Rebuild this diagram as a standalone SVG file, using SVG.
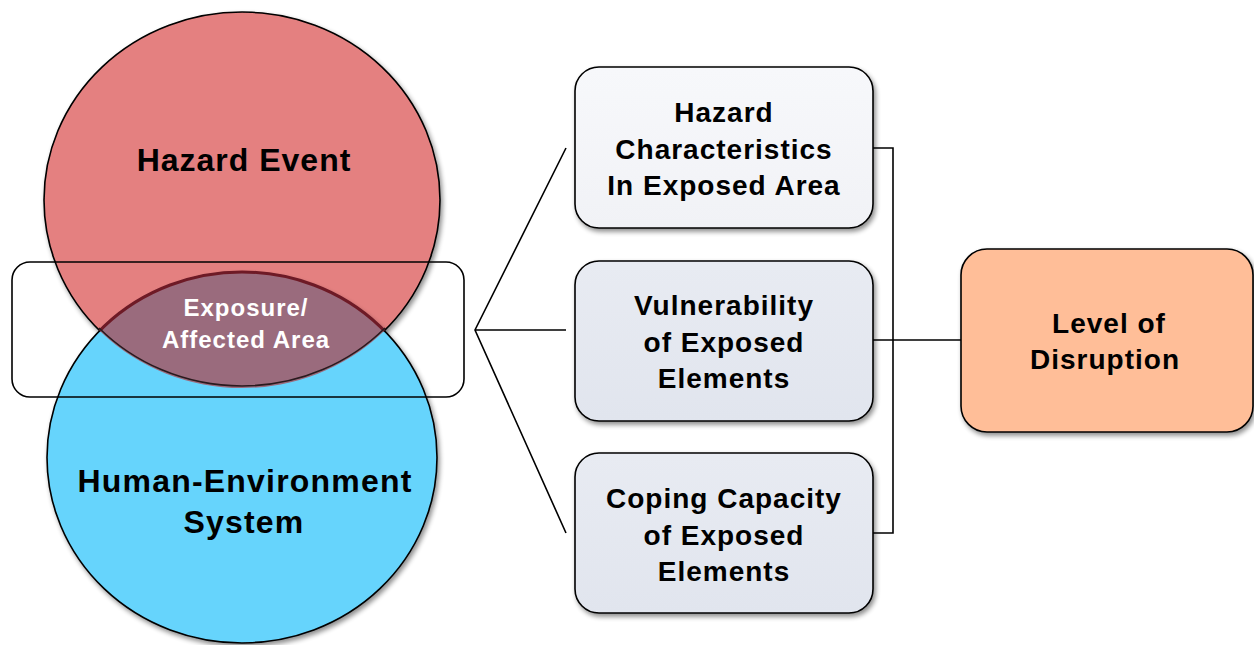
<svg xmlns="http://www.w3.org/2000/svg" width="1254" height="645" viewBox="0 0 1254 645">
<style>
  .t{font-family:"Liberation Sans",Arial,sans-serif;font-weight:bold;text-anchor:middle;fill:#000}
  .box{stroke:#000;stroke-width:1.6}
  .ln{stroke:#000;stroke-width:1.6;fill:none}
</style>
<defs>
  <filter id="sh" x="-10%" y="-10%" width="125%" height="125%">
    <feGaussianBlur in="SourceAlpha" stdDeviation="2.5"/>
    <feOffset dx="2" dy="3"/>
    <feComponentTransfer><feFuncA type="linear" slope="0.45"/></feComponentTransfer>
    <feMerge><feMergeNode/><feMergeNode in="SourceGraphic"/></feMerge>
  </filter>
  <linearGradient id="g1" x1="0" y1="0" x2="0" y2="1">
    <stop offset="0" stop-color="#F7F8FB"/><stop offset="1" stop-color="#F1F2F6"/>
  </linearGradient>
  <linearGradient id="g2" x1="0" y1="0" x2="0" y2="1">
    <stop offset="0" stop-color="#E8EBF2"/><stop offset="1" stop-color="#E1E5EE"/>
  </linearGradient>
  <clipPath id="redclip"><ellipse cx="242" cy="200" rx="198" ry="188"/></clipPath>
</defs>

<g id="hazard-event">
  <ellipse cx="242" cy="200" rx="198" ry="188" fill="#E48080" stroke="#000" stroke-width="1.6" filter="url(#sh)"/>
  <text class="t" x="244" y="171" font-size="32" letter-spacing="1">Hazard Event</text>
</g>

<g id="human-environment">
  <ellipse cx="242" cy="457.5" rx="195" ry="185.5" fill="#66D4FC" stroke="#000" stroke-width="1.6" filter="url(#sh)"/>
  <text class="t" x="245" y="492" font-size="32" letter-spacing="1.2">Human-Environment</text>
  <text class="t" x="244" y="533" font-size="32" letter-spacing="1.2">System</text>
</g>

<g id="exposure">
  <g clip-path="url(#redclip)">
    <ellipse cx="242" cy="457.5" rx="195" ry="185.5" fill="#9A6B7D" stroke="#6E1A26" stroke-width="3"/>
  </g>
  <path d="M99,328 A198,188 0 0 0 385,328" fill="none" stroke="#2a1a1e" stroke-width="1.6"/>
  <text class="t" x="246" y="316" font-size="24" letter-spacing="1" style="fill:#fff">Exposure/</text>
  <text class="t" x="246" y="348" font-size="24" letter-spacing="1" style="fill:#fff">Affected Area</text>
</g>

<g id="exposure-frame">
  <rect x="12" y="262" width="452" height="135" rx="18" fill="none" stroke="#000" stroke-width="1.6"/>
</g>

<g id="connectors">
  <path class="ln" d="M566,148 L475,330 L566,533 M475,330 H566"/>
  <path class="ln" d="M873,148 H893 V533 H873 M873,340 H961"/>
</g>

<g id="hazard-characteristics">
  <rect class="box" x="575" y="67" width="298" height="161" rx="24" fill="url(#g1)" filter="url(#sh)"/>
  <text class="t" x="724" y="122" font-size="28" letter-spacing="1">Hazard</text>
  <text class="t" x="724" y="159" font-size="28" letter-spacing="1">Characteristics</text>
  <text class="t" x="724" y="195" font-size="28" letter-spacing="1">In Exposed Area</text>
</g>

<g id="vulnerability">
  <rect class="box" x="575" y="261" width="298" height="160" rx="24" fill="url(#g2)" filter="url(#sh)"/>
  <text class="t" x="724" y="315" font-size="28" letter-spacing="1">Vulnerability</text>
  <text class="t" x="724" y="352" font-size="28" letter-spacing="1">of Exposed</text>
  <text class="t" x="724" y="388" font-size="28" letter-spacing="1">Elements</text>
</g>

<g id="coping-capacity">
  <rect class="box" x="575" y="453" width="298" height="160" rx="24" fill="url(#g2)" filter="url(#sh)"/>
  <text class="t" x="724" y="508" font-size="28" letter-spacing="1">Coping Capacity</text>
  <text class="t" x="724" y="545" font-size="28" letter-spacing="1">of Exposed</text>
  <text class="t" x="724" y="581" font-size="28" letter-spacing="1">Elements</text>
</g>

<g id="level-of-disruption">
  <rect class="box" x="961" y="249" width="292" height="183" rx="26" fill="#FFBE98" filter="url(#sh)"/>
  <text class="t" x="1109" y="333" font-size="28" letter-spacing="1">Level of</text>
  <text class="t" x="1105" y="369" font-size="28" letter-spacing="1">Disruption</text>
</g>
</svg>
